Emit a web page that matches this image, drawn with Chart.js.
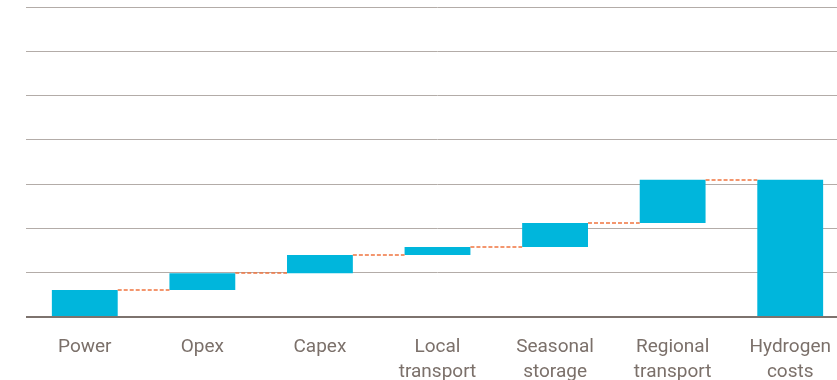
<!DOCTYPE html>
<html><head><meta charset="utf-8">
<script src="https://cdn.jsdelivr.net/npm/chart.js@4"></script>
<style>html,body{margin:0;padding:0;overflow:hidden;background:#fff;width:837px;height:380px}
#wrap{width:849px;height:380px;position:relative}</style>
</head><body><div id="wrap"><canvas id="c"></canvas></div>
<script>
const categories = [["Power"],["Opex"],["Capex"],["Local","transport"],["Seasonal","storage"],["Regional","transport"],["Hydrogen","costs"]];
const increments = [0.61, 0.38, 0.41, 0.18, 0.54, 0.98];
const yTicks = [0,1,2,3,4,5,6,7];

const floating = [];
let run = 0;
for (const inc of increments) { floating.push([run, run + inc]); run += inc; }
floating.push([0, run]);
const tops = floating.map(f => f[1]);

const connectors = {
  id: 'connectors',
  afterDatasetsDraw(chart) {
    const ctx = chart.ctx, meta = chart.getDatasetMeta(0), y = chart.scales.y;
    ctx.save();
    ctx.strokeStyle = '#f0743f'; ctx.lineWidth = 1.5; ctx.setLineDash([4,2]);
    for (let i = 0; i < meta.data.length - 1; i++) {
      const a = meta.data[i], b = meta.data[i+1];
      const py = Math.round(y.getPixelForValue(tops[i]));
      ctx.beginPath();
      ctx.moveTo(a.x + a.width/2, py); ctx.lineTo(b.x - b.width/2, py); ctx.stroke();
    }
    ctx.restore();
  }
};

new Chart(document.getElementById('c'), {
  type: 'bar',
  data: { labels: categories, datasets: [{ data: floating, backgroundColor: '#00b6dc', borderWidth: 0, barPercentage: 0.56, categoryPercentage: 1 }] },
  options: {
    responsive: true, maintainAspectRatio: false, animation: false,
    layout: { padding: { left: 26, top: 7, right: 0, bottom: 0 } },
    plugins: { legend: { display: false }, tooltip: { enabled: false } },
    scales: {
      x: { grid: { display: false }, border: { display: false }, afterFit: s => { s.height = 63; },
           ticks: { color: '#7b706a', font: { family: 'Roboto', size: 19, lineHeight: 1.32 }, padding: 10, maxRotation: 0, autoSkip: false } },
      y: { min: 0, max: 7, afterFit: s => { s.width = 0; },
           afterBuildTicks: s => { s.ticks = yTicks.map(v => ({ value: v })); },
           ticks: { display: false }, border: { display: false },
           grid: { color: c => c.tick && c.tick.value === 0 ? '#7d736e' : '#b3aca8', lineWidth: c => c.tick && c.tick.value === 0 ? 2 : 1, drawTicks: false } }
    }
  },
  plugins: [connectors]
});
</script></body></html>
